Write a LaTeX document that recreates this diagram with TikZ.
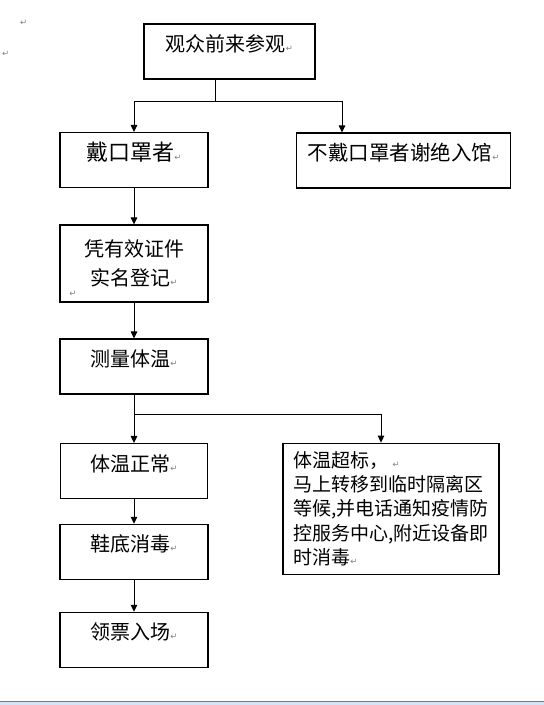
\documentclass[tikz,border=0pt]{standalone}
\usepackage{fontspec}
\usetikzlibrary{arrows.meta,positioning,calc}
\newfontfamily\cjk{Noto Sans CJK SC}
\newfontfamily\markfont{DejaVu Sans}
\definecolor{markgray}{RGB}{128,128,128}
\definecolor{barblue}{RGB}{212,227,245}
\definecolor{bardark}{RGB}{100,128,158}
\newcommand{\retm}{{\markfont\fontsize{8.5}{8.5}\selectfont\textcolor{markgray}{↵}}}

\begin{document}
\begin{tikzpicture}[
    x=1pt, y=-1pt,
    frame/.style={draw, line width=1.1pt, inner xsep=0pt, inner ysep=0pt,
        minimum width=148pt, font=\cjk\fontsize{20}{28.3}\selectfont},
    stepbox/.style={frame, text height=27.5pt, text depth=27.5pt},
    arr/.style={-{Triangle[length=7pt,width=6.5pt]}, line width=1pt},
    link/.style={line width=1pt},
    retlab/.style={inner sep=0pt}
]
\useasboundingbox (0,0) rectangle (544,705);

% stray paragraph marks
\node[retlab] (ret1) at (23.6,22.7) {\retm};
\node[retlab] (ret2) at (5.6,54) {\retm};

% entrance
\node[stepbox, minimum width=171pt] (visit) at (229.5,51.5) {观众前来参观\retm};
\node[stepbox, font=\cjk\fontsize{22}{26}\selectfont] (mask) at (134,160) {戴口罩者\retm};
\node[stepbox, minimum width=214pt, font=\cjk\fontsize{20.5}{24}\selectfont] (nomask) at (403.7,160.5) {不戴口罩者谢绝入馆\retm};

% registration and temperature
\node[frame, align=center, minimum height=77pt] (idcheck) at (134,263.5) {凭有效证件\\实名登记\retm};
\node[retlab] (ret3) at (73,294) {\retm};
\node[stepbox] (measure) at (134,366.5) {测量体温\retm};

% after measuring
\node[stepbox, minimum width=147pt] (normal) at (134,471) {体温正常\retm};
\node[frame, align=left, minimum width=216pt, minimum height=131pt,
    font=\cjk\fontsize{19}{24.1}\selectfont] (fever) at (391,508.7)
    {体温超标，\ \retm\\马上转移到临时隔离区\\等候,并电话通知疫情防\\控服务中心,附近设备即\\时消毒\retm};
\node[stepbox] (shoes) at (134,551.8) {鞋底消毒\retm};
\node[stepbox] (ticket) at (134,639.8) {领票入场\retm};

% connectors
\coordinate (fork1) at (215.6,101);
\draw[link] (fork1 |- visit.south) -- (fork1);
\draw[arr] (fork1) -| (mask.north);
\draw[arr] (fork1) -| ([xshift=-61.7pt]nomask.north);
\draw[arr] (mask) -- (idcheck);
\draw[arr] (idcheck) -- (measure);
\coordinate (fork2) at (134,414.3);
\draw[link] (measure.south) -- (fork2);
\draw[arr] (fork2) -- (normal.north);
\draw[arr] (fork2) -| ([xshift=-10pt]fever.north);
\draw[arr] (normal) -- (shoes);
\draw[arr] (shoes) -- (ticket);

% window edge
\fill[barblue] (0,702) rectangle (544,705);
\draw[bardark, line width=1pt] (0,701.5) -- (544,701.5);
\end{tikzpicture}
\end{document}
